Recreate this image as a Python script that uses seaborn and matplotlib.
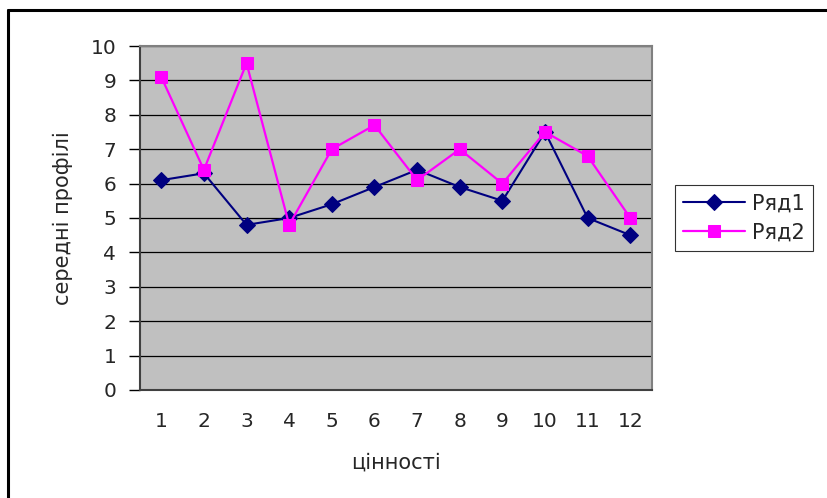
import matplotlib
matplotlib.use("Agg")
import matplotlib.pyplot as plt
import numpy as np
import pandas as pd
import seaborn as sns

sns.set_style("white")
plt.rcParams["font.family"] = ["DejaVu Sans"]

categories = [1, 2, 3, 4, 5, 6, 7, 8, 9, 10, 11, 12]
ryad1 = [6.1, 6.3, 4.8, 5.0, 5.4, 5.9, 6.4, 5.9, 5.5, 7.5, 5.0, 4.5]
ryad2 = [9.1, 6.4, 9.5, 4.8, 7.0, 7.7, 6.1, 7.0, 6.0, 7.5, 6.8, 5.0]
y_ticks = [0, 1, 2, 3, 4, 5, 6, 7, 8, 9, 10]

df = pd.DataFrame({"x": categories, "Ряд1": ryad1, "Ряд2": ryad2})

fig = plt.figure(figsize=(8.28, 4.98), dpi=100)
ax = fig.add_axes([0.169, 0.2169, 0.618, 0.6907])
ax.set_facecolor("#C0C0C0")

sns.lineplot(data=df, x="x", y="Ряд1", ax=ax, color="#000080", linewidth=1.5,
             marker="D", markersize=8.5, markeredgecolor="#000080", label="Ряд1")
sns.lineplot(data=df, x="x", y="Ряд2", ax=ax, color="#FF00FF", linewidth=1.6,
             marker="s", markersize=8, markeredgecolor="#FF00FF", label="Ряд2")

ax.set_xlim(0.5, 12.5)
ax.set_ylim(0, 10)
ax.set_yticks(y_ticks)
ax.set_xticks(categories)
ax.set_xticks(np.arange(0.5, 13, 1), minor=True)
ax.tick_params(axis="x", which="major", length=0, pad=16, labelsize=14.5)
ax.tick_params(axis="x", which="minor", length=7, width=1, color="#000000", direction="out")
ax.tick_params(axis="y", which="major", length=8, width=1, color="#000000",
               direction="out", pad=9, labelsize=14.5, left=True)
ax.grid(axis="y", color="#000000", linewidth=0.9)
ax.set_axisbelow(True)

for side in ["top", "right"]:
    ax.spines[side].set_color("#808080")
    ax.spines[side].set_linewidth(1.5)
ax.spines["left"].set_color("#404040")
ax.spines["left"].set_linewidth(1.5)
ax.spines["bottom"].set_color("#404040")
ax.spines["bottom"].set_linewidth(1.5)

ax.set_xlabel("цінності", fontsize=15, labelpad=15)
ax.set_ylabel("середні профілі", fontsize=15, labelpad=13)

leg = ax.legend(loc="center left", bbox_to_anchor=(1.045, 0.5), fontsize=15,
                frameon=True, fancybox=False, edgecolor="#000000",
                handlelength=3.0, borderpad=0.4, labelspacing=0.45, handletextpad=0.3,
                borderaxespad=0)
leg.get_frame().set_linewidth(0.8)

# outer chart border (left and top visible in the original crop)
fig.add_artist(plt.Line2D([0.0097, 0.0097], [0, 0.98], color="black", linewidth=2.2,
                          transform=fig.transFigure))
fig.add_artist(plt.Line2D([0.0097, 1.0], [0.98, 0.98], color="black", linewidth=2.2,
                          transform=fig.transFigure))

fig.savefig("out.png", dpi=100)
